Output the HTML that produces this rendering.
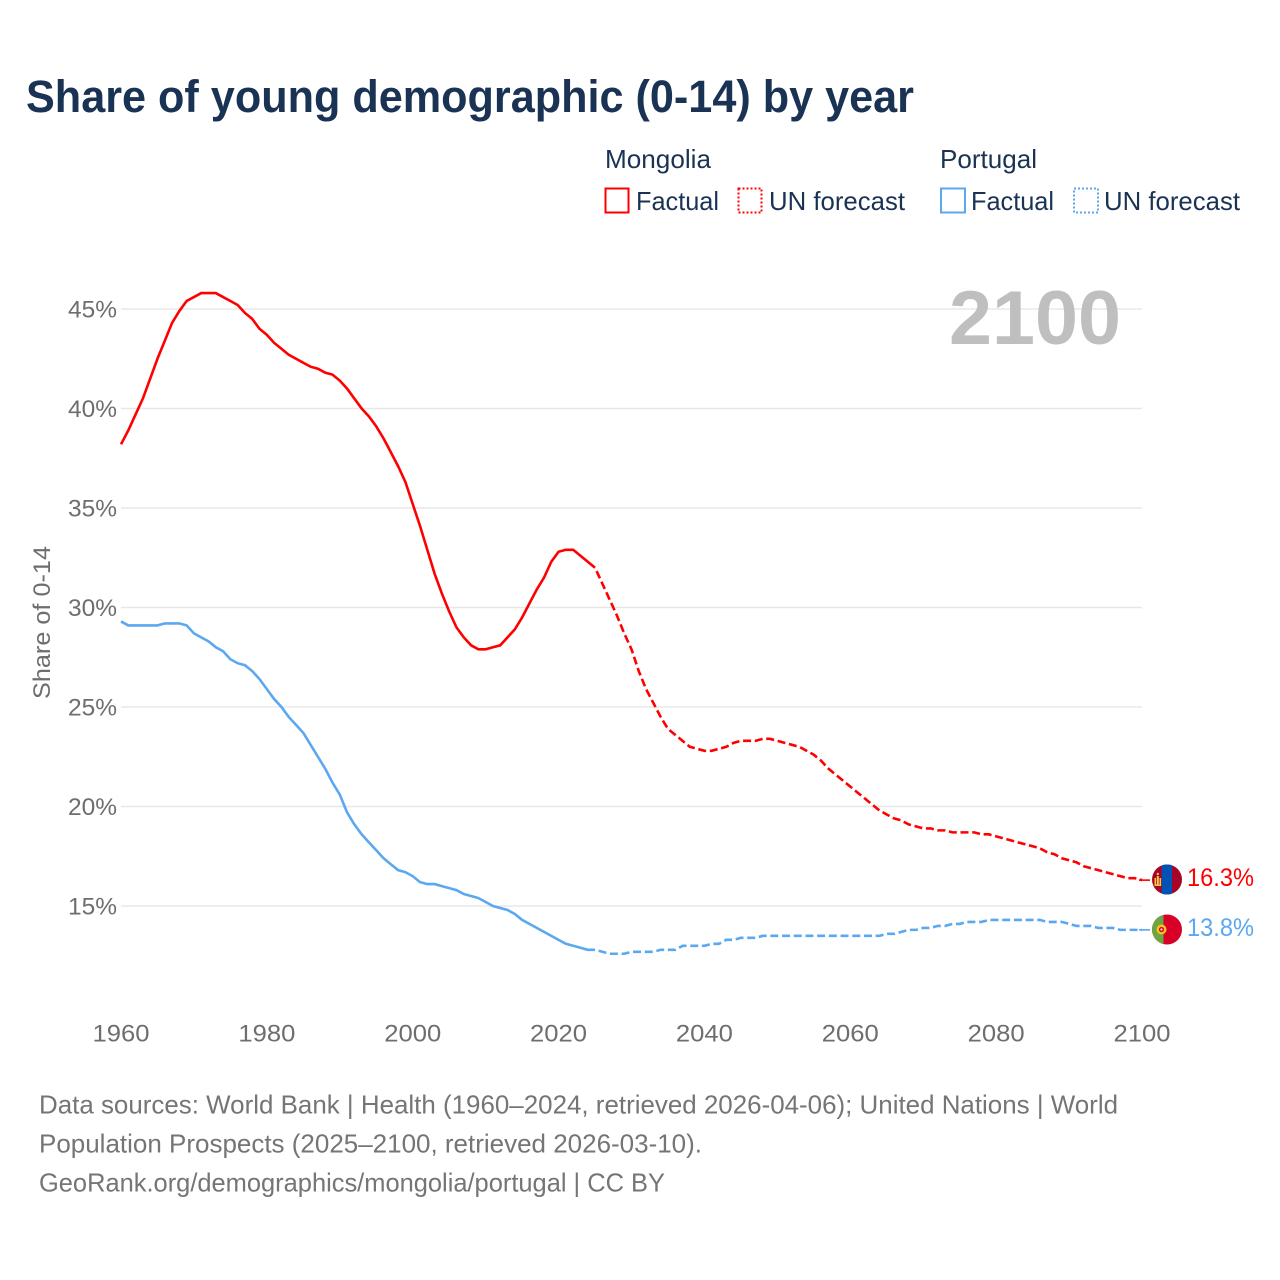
<!DOCTYPE html>
<html lang="en">
<head>
<meta charset="utf-8">
<title>Share of young demographic (0-14) by year</title>
<style>
html,body{margin:0;padding:0;background:#fff;}
svg{display:block;font-family:"Liberation Sans",sans-serif;}
</style>
</head>
<body>
<svg id="chart" xmlns="http://www.w3.org/2000/svg" width="1280" height="1280" viewBox="0 0 1280 1280">
  <defs>
    <clipPath id="clip-mn"><circle cx="1167" cy="879.5" r="15"/></clipPath>
    <clipPath id="clip-pt"><circle cx="1167" cy="929.5" r="15"/></clipPath>
  </defs>
  <rect width="1280" height="1280" fill="#fff"/>
  <text x="26" y="112" font-size="45" font-weight="700" fill="#1a3354" textLength="888" lengthAdjust="spacingAndGlyphs">Share of young demographic (0-14) by year</text>

  <g font-size="26" fill="#1a3354">
    <text x="605" y="168" textLength="106" lengthAdjust="spacingAndGlyphs">Mongolia</text>
    <rect x="605.500" y="188.500" width="23" height="24" fill="none" stroke="#ff0000" stroke-width="2"/>
    <text x="636" y="210" textLength="83" lengthAdjust="spacingAndGlyphs">Factual</text>
    <rect x="738.500" y="188.500" width="23" height="24" fill="none" stroke="#ff0000" stroke-width="2" stroke-dasharray="2 2"/>
    <text x="769" y="210" textLength="136" lengthAdjust="spacingAndGlyphs">UN forecast</text>
    <text x="940" y="168" textLength="97" lengthAdjust="spacingAndGlyphs">Portugal</text>
    <rect x="941" y="188.500" width="24" height="24" fill="none" stroke="#5ba8f0" stroke-width="2"/>
    <text x="971" y="210" textLength="83" lengthAdjust="spacingAndGlyphs">Factual</text>
    <rect x="1074" y="188.500" width="24" height="24" fill="none" stroke="#5ba8f0" stroke-width="2" stroke-dasharray="2 2"/>
    <text x="1104" y="210" textLength="136" lengthAdjust="spacingAndGlyphs">UN forecast</text>
  </g>

  <g id="grid"></g>
  <g id="y-ticks" font-size="24" fill="#6e6e6e"></g>
  <g id="x-ticks" font-size="24" fill="#6e6e6e"></g>
  <text transform="translate(50,622.500) rotate(-90)" text-anchor="middle" font-size="24" fill="#6e6e6e" textLength="153" lengthAdjust="spacingAndGlyphs">Share of 0-14</text>
  <text x="949" y="344" font-size="76" font-weight="700" fill="#bfbfbf" textLength="172" lengthAdjust="spacingAndGlyphs">2100</text>

  <g id="series"></g>

  <g clip-path="url(#clip-mn)">
    <rect x="1152" y="864" width="30" height="31" fill="#a50527"/>
    <rect x="1161.700" y="864" width="10.300" height="31" fill="#0052b4"/>
    <rect x="1154.500" y="878" width="1.600" height="6.500" fill="#f5c84a"/>
    <rect x="1159.500" y="878" width="1.600" height="6.500" fill="#f5c84a"/>
    <rect x="1156.800" y="876" width="2" height="8.500" fill="#f5c84a"/>
    <rect x="1154.500" y="884.500" width="6.600" height="1.500" fill="#f5c84a"/>
    <circle cx="1157.800" cy="874" r="1.200" fill="#f5c84a"/>
  </g>
  <g clip-path="url(#clip-pt)">
    <rect x="1152" y="914" width="30" height="31" fill="#d80027"/>
    <rect x="1152" y="914" width="11.500" height="31" fill="#6da544"/>
    <circle cx="1161.500" cy="929.500" r="5" fill="#f5c518"/>
    <circle cx="1161.500" cy="929.500" r="2.600" fill="#d80027"/>
    <circle cx="1161.500" cy="929.500" r="1.100" fill="#f0f0f0"/>
  </g>

  <text id="value-mn" x="1187" y="886" font-size="25" fill="#ff0000" textLength="67" lengthAdjust="spacingAndGlyphs"></text>
  <text id="value-pt" x="1187" y="936" font-size="25" fill="#5ba8f0" textLength="67" lengthAdjust="spacingAndGlyphs"></text>

  <g font-size="26" fill="#757575">
    <text x="39" y="1113.500" textLength="1079" lengthAdjust="spacingAndGlyphs">Data sources: World Bank | Health (1960–2024, retrieved 2026-04-06); United Nations | World</text>
    <text x="39" y="1152.500" textLength="663" lengthAdjust="spacingAndGlyphs">Population Prospects (2025–2100, retrieved 2026-03-10).</text>
    <text x="39" y="1191.500" textLength="626" lengthAdjust="spacingAndGlyphs">GeoRank.org/demographics/mongolia/portugal | CC BY</text>
  </g>
</svg>
<script>
const yTickValues = [15, 20, 25, 30, 35, 40, 45];
const xTickYears = [1960, 1980, 2000, 2020, 2040, 2060, 2080, 2100];

const factualStartYear = 1960;
const forecastStartYear = 2025;

const mongoliaFactual = [
  38.2,38.9,39.7,40.5,41.5,42.5,43.4,44.3,44.9,45.4,
  45.6,45.8,45.8,45.8,45.6,45.4,45.2,44.8,44.5,44.0,
  43.7,43.3,43.0,42.7,42.5,42.3,42.1,42.0,41.8,41.7,
  41.4,41.0,40.5,40.0,39.6,39.1,38.5,37.8,37.1,36.3,
  35.2,34.1,32.9,31.7,30.7,29.8,29.0,28.5,28.1,27.9,
  27.9,28.0,28.1,28.5,28.9,29.5,30.2,30.9,31.5,32.3,
  32.8,32.9,32.9,32.6,32.3,32.0
];
const mongoliaForecast = [
  32.0,31.2,30.4,29.6,28.7,
  27.9,26.8,25.9,25.2,24.5,23.9,23.6,23.3,23.0,22.9,
  22.8,22.8,22.9,23.0,23.2,23.3,23.3,23.3,23.4,23.4,
  23.3,23.2,23.1,23.0,22.8,22.6,22.3,21.9,21.6,21.3,
  21.0,20.7,20.4,20.1,19.8,19.6,19.4,19.3,19.1,19.0,
  18.9,18.9,18.8,18.8,18.7,18.7,18.7,18.7,18.6,18.6,
  18.5,18.4,18.3,18.2,18.1,18.0,17.9,17.7,17.6,17.4,
  17.3,17.2,17.0,16.9,16.8,16.7,16.6,16.5,16.4,16.4,
  16.3
];
const portugalFactual = [
  29.3,29.1,29.1,29.1,29.1,29.1,29.2,29.2,29.2,29.1,
  28.7,28.5,28.3,28.0,27.8,27.4,27.2,27.1,26.8,26.4,
  25.9,25.4,25.0,24.5,24.1,23.7,23.1,22.5,21.9,21.2,
  20.6,19.7,19.1,18.6,18.2,17.8,17.4,17.1,16.8,16.7,
  16.5,16.2,16.1,16.1,16.0,15.9,15.8,15.6,15.5,15.4,
  15.2,15.0,14.9,14.8,14.6,14.3,14.1,13.9,13.7,13.5,
  13.3,13.1,13.0,12.9,12.8,12.8
];
const portugalForecast = [
  12.8,12.7,12.6,12.6,12.6,
  12.7,12.7,12.7,12.7,12.8,12.8,12.8,13.0,13.0,13.0,
  13.0,13.1,13.1,13.3,13.3,13.4,13.4,13.4,13.5,13.5,
  13.5,13.5,13.5,13.5,13.5,13.5,13.5,13.5,13.5,13.5,
  13.5,13.5,13.5,13.5,13.5,13.6,13.6,13.7,13.8,13.8,
  13.9,13.9,14.0,14.0,14.1,14.1,14.2,14.2,14.2,14.3,
  14.3,14.3,14.3,14.3,14.3,14.3,14.3,14.2,14.2,14.2,
  14.1,14.0,14.0,14.0,13.9,13.9,13.9,13.8,13.8,13.8,
  13.8
];

const NS = 'http://www.w3.org/2000/svg';
function xScale(year) { return 121 + (year - 1960) * (1142 - 121) / 140; }
function yScale(value) { return 906 - (value - 15) * (906 - 309) / 30; }
function pathFrom(values, startYear) {
  return values.map(function (v, i) {
    return (i ? 'L' : 'M') + xScale(startYear + i).toFixed(2) + ' ' + yScale(v).toFixed(2);
  }).join(' ');
}

const gridGroup = document.getElementById('grid');
const yGroup = document.getElementById('y-ticks');
yTickValues.forEach(function (v) {
  const gl = document.createElementNS(NS, 'line');
  
  
  gl.setAttribute('x1', xScale(1960));
  gl.setAttribute('x2', xScale(2100));
  gl.setAttribute('y1', yScale(v));
  gl.setAttribute('y2', yScale(v));
  gl.setAttribute('stroke', '#e8e8e8');
  gl.setAttribute('stroke-width', '1.5');
  gridGroup.appendChild(gl);
  const t = document.createElementNS(NS, 'text');
  
  
  t.setAttribute('x', 68);
  t.setAttribute('y', yScale(v) + 8.5);
  t.setAttribute('textLength', 49);
  t.setAttribute('lengthAdjust', 'spacingAndGlyphs');
  t.textContent = v + '%';
  yGroup.appendChild(t);
});

const xGroup = document.getElementById('x-ticks');
xTickYears.forEach(function (yr) {
  const t = document.createElementNS(NS, 'text');
  
  
  t.setAttribute('x', xScale(yr) - 28.5);
  t.setAttribute('y', 1041.5);
  t.setAttribute('textLength', 57);
  t.setAttribute('lengthAdjust', 'spacingAndGlyphs');
  t.textContent = yr;
  xGroup.appendChild(t);
});

const seriesGroup = document.getElementById('series');

const mnFactualPath = document.createElementNS(NS, 'path');


mnFactualPath.setAttribute('d', pathFrom(mongoliaFactual, factualStartYear));
mnFactualPath.setAttribute('fill', 'none');
mnFactualPath.setAttribute('stroke', '#ff0000');
mnFactualPath.setAttribute('stroke-width', '2.6');
seriesGroup.appendChild(mnFactualPath);

const mnForecastPath = document.createElementNS(NS, 'path');


mnForecastPath.setAttribute('d', pathFrom(mongoliaForecast, forecastStartYear));
mnForecastPath.setAttribute('fill', 'none');
mnForecastPath.setAttribute('stroke', '#ff0000');
mnForecastPath.setAttribute('stroke-width', '2.6');
mnForecastPath.setAttribute('stroke-dasharray', '8 3.7');
mnForecastPath.setAttribute('stroke-dashoffset', '-3.7');
seriesGroup.appendChild(mnForecastPath);

const ptFactualPath = document.createElementNS(NS, 'path');


ptFactualPath.setAttribute('d', pathFrom(portugalFactual, factualStartYear));
ptFactualPath.setAttribute('fill', 'none');
ptFactualPath.setAttribute('stroke', '#5ba8f0');
ptFactualPath.setAttribute('stroke-width', '2.6');
seriesGroup.appendChild(ptFactualPath);

const ptForecastPath = document.createElementNS(NS, 'path');


ptForecastPath.setAttribute('d', pathFrom(portugalForecast, forecastStartYear));
ptForecastPath.setAttribute('fill', 'none');
ptForecastPath.setAttribute('stroke', '#5ba8f0');
ptForecastPath.setAttribute('stroke-width', '2.6');
ptForecastPath.setAttribute('stroke-dasharray', '8 3.7');
ptForecastPath.setAttribute('stroke-dashoffset', '-3.7');
seriesGroup.appendChild(ptForecastPath);

const mnLast = mongoliaForecast[mongoliaForecast.length - 1];
const ptLast = portugalForecast[portugalForecast.length - 1];

const mnTail = document.createElementNS(NS, 'line');


mnTail.setAttribute('x1', xScale(2100) - 3);
mnTail.setAttribute('x2', xScale(2100) + 8);
mnTail.setAttribute('y1', yScale(mnLast));
mnTail.setAttribute('y2', yScale(mnLast));
mnTail.setAttribute('stroke', '#ff0000');
mnTail.setAttribute('stroke-width', '1.6');
seriesGroup.appendChild(mnTail);

const ptTail = document.createElementNS(NS, 'line');


ptTail.setAttribute('x1', xScale(2100) - 3);
ptTail.setAttribute('x2', xScale(2100) + 8);
ptTail.setAttribute('y1', yScale(ptLast));
ptTail.setAttribute('y2', yScale(ptLast));
ptTail.setAttribute('stroke', '#5ba8f0');
ptTail.setAttribute('stroke-width', '1.6');
seriesGroup.appendChild(ptTail);

document.getElementById('value-mn').textContent = mnLast.toFixed(1) + '%';
document.getElementById('value-pt').textContent = ptLast.toFixed(1) + '%';
</script>
</body>
</html>
